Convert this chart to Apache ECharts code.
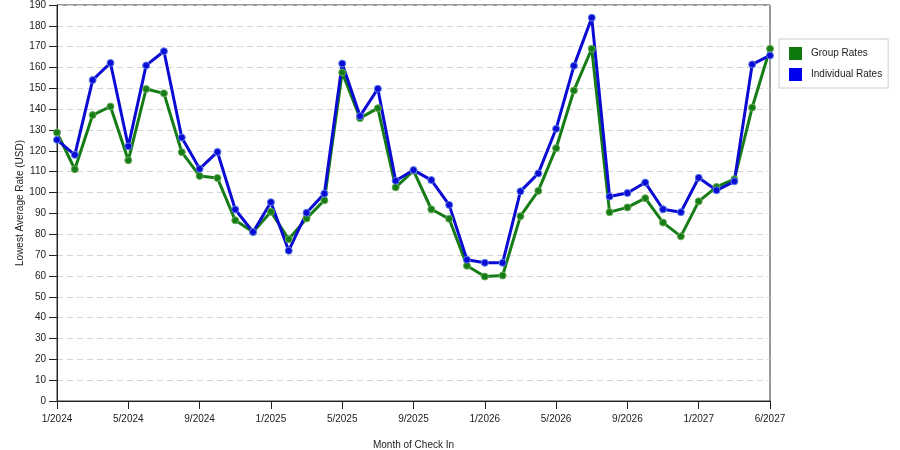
<!DOCTYPE html>
<html>
<head>
<meta charset="utf-8">
<script src="https://cdn.jsdelivr.net/npm/echarts@6/dist/echarts.min.js"></script>
<style>
  html, body { margin: 0; padding: 0; background: #ffffff; }
  #chart { width: 900px; height: 450px; }
</style>
</head>
<body>
<div id="chart"></div>
<script>
// months of check in (the source skips 5/2027, last point is 6/2027)
var months = [
  '1/2024','2/2024','3/2024','4/2024','5/2024','6/2024','7/2024','8/2024','9/2024','10/2024','11/2024','12/2024',
  '1/2025','2/2025','3/2025','4/2025','5/2025','6/2025','7/2025','8/2025','9/2025','10/2025','11/2025','12/2025',
  '1/2026','2/2026','3/2026','4/2026','5/2026','6/2026','7/2026','8/2026','9/2026','10/2026','11/2026','12/2026',
  '1/2027','2/2027','3/2027','4/2027','6/2027'
];

var groupRates = [
  128.8, 111.2, 137.2, 141.3, 115.5, 149.7, 147.6, 119.4, 108, 107, 86.7, 81.1,
  90.8, 77.6, 87.6, 96.3, 157.6, 135.7, 140.5, 102.5, 110.5, 92, 87.4, 64.9,
  59.7, 60.2, 88.7, 100.8, 121.3, 149, 169, 90.6, 92.9, 97.3, 85.6, 79,
  95.8, 102.7, 106.4, 140.8, 169
];

var individualRates = [
  125.3, 118.1, 154, 162.2, 122.2, 161, 167.8, 126.4, 111.4, 119.5, 91.9, 81.1,
  95.4, 72.1, 90.3, 99.5, 161.9, 136.7, 149.8, 105.7, 110.8, 106, 94.1, 67.8,
  66.3, 66.3, 100.6, 109.2, 130.6, 160.8, 183.9, 98.1, 99.8, 104.8, 92, 90.6,
  107.1, 101.1, 105.4, 161.5, 165.8
];

var font = 'Liberation Sans, Arial, sans-serif';

// label/tick every 4 months plus the last one
function showTick(idx) {
  return idx % 4 === 0 || idx === months.length - 1;
}

var chart = echarts.init(document.getElementById('chart'));

var option = {
  backgroundColor: '#ffffff',
  animation: false,
  grid: {
    left: 57,
    right: 130,
    top: 5,
    bottom: 49,
    outerBoundsMode: 'none',
    containLabel: false,
    show: true,
    borderColor: '#333333',
    borderWidth: 1
  },
  legend: {
    orient: 'vertical',
    left: 779,
    top: 39,
    icon: 'rect',
    itemWidth: 13,
    itemHeight: 13,
    itemGap: 8,
    padding: [8, 6, 7, 10],
    borderColor: '#cccccc',
    borderWidth: 1,
    textStyle: { fontFamily: font, fontSize: 10, color: '#222222', padding: [0, 0, 0, 4] },
    data: [
      { name: 'Group Rates', itemStyle: { color: '#0e7a0e', borderWidth: 0 } },
      { name: 'Individual Rates', itemStyle: { color: '#0000f0', borderWidth: 0 } }
    ]
  },
  xAxis: {
    type: 'category',
    data: months,
    boundaryGap: false,
    name: 'Month of Check In',
    nameLocation: 'middle',
    nameGap: 39,
    nameMoveOverlap: false,
    nameTextStyle: { fontFamily: font, fontSize: 10, color: '#222222' },
    axisLine: { lineStyle: { color: '#222222', width: 1 } },
    axisTick: { interval: showTick, length: 8, lineStyle: { color: '#222222' } },
    axisLabel: { interval: showTick, margin: 13, fontFamily: font, fontSize: 10, color: '#222222' },
    splitLine: { show: false }
  },
  yAxis: {
    type: 'value',
    min: 0,
    max: 190,
    interval: 10,
    name: 'Lowest Average Rate (USD)',
    nameLocation: 'middle',
    nameGap: 32,
    nameMoveOverlap: false,
    nameTextStyle: { fontFamily: font, fontSize: 10, color: '#222222' },
    axisLine: { show: true, lineStyle: { color: '#222222', width: 1 } },
    axisTick: { show: true, length: 8, lineStyle: { color: '#222222' } },
    axisLabel: { margin: 11, fontFamily: font, fontSize: 10, color: '#222222' },
    splitLine: { show: true, lineStyle: { color: '#d4d4d4', type: [6, 4], width: 1 } }
  },
  series: [
    {
      name: 'Group Rates',
      type: 'line',
      data: groupRates,
      symbol: 'circle',
      symbolSize: 7,
      showAllSymbol: true,
      lineStyle: { color: '#167c16', width: 3 },
      itemStyle: { color: '#167c16', borderColor: '#6aab5a', borderWidth: 1 }
    },
    {
      name: 'Individual Rates',
      type: 'line',
      data: individualRates,
      symbol: 'circle',
      symbolSize: 7,
      showAllSymbol: true,
      lineStyle: { color: '#0b0bd4', width: 3 },
      itemStyle: { color: '#0b0bd4', borderColor: '#5b7fe6', borderWidth: 1 }
    }
  ]
};

chart.setOption(option);
</script>
</body>
</html>
